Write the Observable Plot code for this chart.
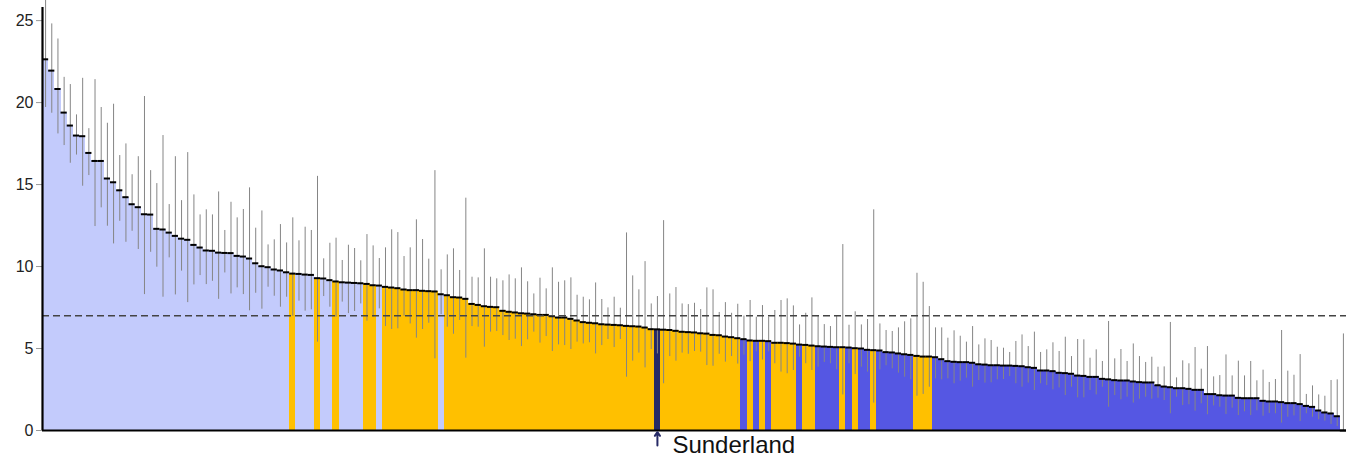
<!DOCTYPE html>
<html>
<head>
<meta charset="utf-8">
<script src="https://cdn.jsdelivr.net/npm/d3@7"></script>
<script src="https://cdn.jsdelivr.net/npm/@observablehq/plot@0.6"></script>
<style>
  body { margin: 0; background: #fff; }
  svg { display: block; }
</style>
</head>
<body>
<div id="chart"></div>
<script>
// Rate per local authority, sorted descending (rank 1..211)
const values = [
  22.64, 21.95, 20.83, 19.39, 18.6, 17.99, 17.95, 16.93, 16.44, 16.44,
  15.37, 15.14, 14.65, 14.23, 13.8, 13.62, 13.19, 13.17, 12.3, 12.26,
  12.07, 11.87, 11.7, 11.63, 11.32, 11.16, 10.98, 10.96, 10.85, 10.83,
  10.82, 10.65, 10.61, 10.49, 10.2, 10.02, 9.96, 9.82, 9.76, 9.65,
  9.57, 9.55, 9.51, 9.49, 9.29, 9.27, 9.17, 9.09, 9.04, 9.02,
  9.0, 8.98, 8.94, 8.86, 8.84, 8.76, 8.72, 8.68, 8.6, 8.56,
  8.56, 8.52, 8.5, 8.48, 8.31, 8.25, 8.13, 8.11, 8.03, 7.72,
  7.66, 7.58, 7.54, 7.52, 7.3, 7.24, 7.2, 7.15, 7.13, 7.09,
  7.05, 7.05, 6.97, 6.89, 6.89, 6.81, 6.71, 6.61, 6.57, 6.54,
  6.48, 6.46, 6.44, 6.42, 6.38, 6.36, 6.34, 6.28, 6.18, 6.17,
  6.15, 6.13, 6.08, 6.02, 6.0, 5.98, 5.93, 5.91, 5.83, 5.81,
  5.73, 5.69, 5.63, 5.57, 5.49, 5.47, 5.47, 5.45, 5.35, 5.35,
  5.33, 5.3, 5.24, 5.22, 5.18, 5.14, 5.12, 5.1, 5.08, 5.08,
  5.06, 5.02, 5.0, 4.92, 4.9, 4.88, 4.78, 4.76, 4.7, 4.65,
  4.61, 4.55, 4.51, 4.51, 4.47, 4.35, 4.23, 4.19, 4.17, 4.17,
  4.13, 4.04, 4.02, 3.98, 3.98, 3.96, 3.96, 3.94, 3.92, 3.86,
  3.82, 3.66, 3.66, 3.62, 3.52, 3.5, 3.46, 3.35, 3.33, 3.27,
  3.27, 3.15, 3.12, 3.07, 3.05, 3.05, 2.99, 2.95, 2.93, 2.93,
  2.76, 2.68, 2.64, 2.58, 2.58, 2.54, 2.48, 2.48, 2.22, 2.22,
  2.15, 2.13, 2.13, 1.99, 1.97, 1.97, 1.97, 1.81, 1.77, 1.77,
  1.73, 1.67, 1.67, 1.61, 1.5, 1.44, 1.22, 1.1, 1.04, 0.87,
  0
];

// Upper confidence limits
const upper = [
  27.5, 24.8, 23.88, 21.54, 21.1, 19.25, 21.48, 18.41, 21.4, 19.7,
  18.74, 19.9, 16.77, 17.48, 15.6, 16.7, 20.37, 15.85, 15.06, 17.99,
  13.78, 16.7, 14.02, 16.95, 14.37, 13.15, 13.46, 13.15, 14.55, 12.2,
  13.92, 12.97, 13.48, 14.8, 12.34, 13.39, 11.32, 11.63, 12.56, 11.44,
  12.97, 11.57, 12.4, 12.2, 15.5, 10.47, 11.42, 11.73, 10.37, 11.3,
  11.1, 10.35, 11.95, 11.26, 10.49, 11.14, 12.24, 12.07, 10.61, 11.14,
  12.85, 11.65, 10.45, 15.85, 9.8, 10.71, 11.08, 9.76, 14.17, 9.35,
  9.31, 11.08, 9.35, 9.25, 9.13, 9.49, 9.25, 9.92, 9.07, 8.33,
  9.29, 8.64, 9.92, 9.04, 9.13, 9.31, 8.25, 8.13, 7.97, 9.0,
  7.99, 7.48, 8.13, 7.46, 12.05, 9.43, 8.58, 10.3, 7.72, 8.17,
  12.8, 8.33, 8.72, 7.72, 7.68, 7.76, 7.38, 8.7, 8.58, 7.2,
  7.8, 7.15, 7.7, 6.98, 7.93, 6.91, 7.62, 6.91, 7.32, 7.93,
  8.03, 7.6, 6.44, 7.15, 8.09, 6.95, 6.46, 6.34, 6.99, 11.34,
  6.42, 7.24, 6.44, 6.77, 13.46, 6.5, 6.1, 6.04, 6.26, 6.63,
  6.81, 9.59, 9.04, 7.56, 6.26, 6.26, 5.63, 6.08, 5.75, 5.39,
  6.34, 5.22, 5.59, 5.49, 5.08, 5.02, 4.76, 5.43, 5.83, 5.12,
  6.0, 4.76, 4.92, 5.35, 4.82, 5.69, 4.51, 5.55, 5.53, 4.41,
  4.92, 4.21, 6.65, 4.37, 4.94, 4.21, 5.28, 4.51, 4.15, 4.47,
  3.86, 3.88, 6.59, 3.21, 4.25, 4.07, 5.06, 3.74, 5.12, 3.27,
  3.35, 4.61, 3.33, 4.23, 3.33, 4.21, 3.03, 3.68, 2.93, 3.11,
  6.1, 3.62, 3.37, 4.63, 2.2, 2.72, 2.17, 2.09, 3.05, 3.09,
  5.89
];

// Lower confidence limits
const lower = [
  19.7, 19.35, 18.09, 17.38, 16.3, 16.8, 14.9, 15.55, 12.44, 13.58,
  12.46, 11.38, 12.76, 11.48, 12.15, 11.04, 8.29, 10.87, 9.96, 8.13,
  10.53, 8.27, 9.72, 7.8, 8.88, 9.45, 8.9, 9.1, 8.0, 9.61,
  8.33, 8.7, 8.29, 7.3, 8.37, 7.4, 8.74, 8.19, 7.52, 8.13,
  6.97, 7.89, 7.28, 7.36, 5.39, 8.17, 7.52, 6.91, 7.83, 7.13,
  7.26, 7.72, 6.67, 6.91, 7.42, 6.34, 6.16, 6.2, 6.97, 6.5,
  5.63, 6.16, 6.54, 4.37, 7.07, 6.3, 5.87, 6.71, 4.41, 6.34,
  6.3, 5.08, 6.0, 6.04, 5.79, 5.49, 5.57, 5.12, 5.53, 6.0,
  5.33, 5.73, 4.82, 5.22, 5.18, 4.94, 5.39, 5.28, 5.35, 4.67,
  5.18, 5.55, 5.06, 5.55, 3.25, 4.23, 4.72, 3.82, 4.94, 4.67,
  2.85, 4.51, 4.23, 4.72, 4.65, 4.82, 4.78, 3.96, 3.92, 4.65,
  4.17, 4.51, 4.05, 4.6, 4.2, 4.8, 4.3, 4.8, 4.07, 3.56,
  3.46, 3.66, 4.47, 4.07, 3.66, 3.86, 4.15, 4.07, 3.7, 2.17,
  4.07, 3.41, 3.86, 3.56, 1.67, 3.7, 3.95, 3.76, 3.5, 3.25,
  3.09, 2.09, 2.2, 2.64, 3.15, 3.09, 3.15, 2.85, 3.01, 3.19,
  2.64, 3.05, 2.89, 2.91, 3.09, 3.11, 3.29, 2.85, 2.64, 2.89,
  2.44, 2.85, 2.74, 2.48, 2.6, 2.13, 2.64, 1.99, 1.99, 2.44,
  2.17, 2.64, 1.42, 2.13, 1.87, 2.03, 1.67, 1.91, 2.03, 1.91,
  1.97, 1.83, 1.02, 2.03, 1.52, 1.57, 1.18, 1.63, 0.96, 1.5,
  1.42, 0.98, 1.36, 0.91, 1.14, 0.91, 1.2, 0.87, 1.04, 1.02,
  0.45, 0.81, 0.89, 0.55, 1.02, 0.81, 0.65, 0.57, 0.37, 0.24,
  0
];

// Significance vs England: H = higher, S = similar, L = lower
const significance =
  "HHHHHHHHHH HHHHHHHHHH HHHHHHHHHH HHHHHHHHHH " +
  "S HHH S HH S HHHH SS H SSSSSSSSS H " +
  "SSSSSSSSSS SSSSSSSSSS SSSSSSSSSS SSSSSSSSSS SSSSSSSS " +
  "LSLSL SSSS L SS LLLL SLS LL S LLLLLL SSS " +
  "LLLLLLLLLL LLLLLLLLLL LLLLLLLLLL LLLLLLLLLL LLLLLLLLLL LLLLLLLLLL LLLLLLL";

const englandValue = 7.0;
const yTicks = [0, 5, 10, 15, 20, 25];
const highlightName = "Sunderland";
const highlightRank = 100;

const groupColors = {H: "#c3cbfc", S: "#ffc000", L: "#5557e3", highlight: "#262a66"};

const sig = significance.replace(/\s+/g, "").split("");
const data = values.map((v, i) => ({
  area: (i + 1 === highlightRank) ? highlightName : `LA ${i + 1}`,
  value: v,
  lo: lower[i],
  hi: upper[i],
  group: (i + 1 === highlightRank) ? "highlight" : sig[i]
}));
const hl = data.filter(d => d.area === highlightName);

const W = 1354, ML = 42, MR = 8;
const halfBand = (W - ML - MR) / data.length / 2;

const chart = Plot.plot({
  width: W,
  height: 458,
  marginLeft: ML,
  marginRight: MR,
  marginTop: 7,
  marginBottom: 28,
  style: {fontFamily: "'Liberation Sans', Arial, sans-serif", fontSize: "16px", background: "#fff", color: "#000"},
  x: {type: "band", domain: data.map(d => d.area), padding: 0, axis: null},
  y: {domain: [0, 25.8], axis: null},
  color: {domain: Object.keys(groupColors), range: Object.values(groupColors)},
  marks: [
    Plot.barY(data, {x: "area", y: "value", fill: "group", shapeRendering: "crispEdges"}),
    Plot.ruleX(data, {x: "area", y1: "lo", y2: "hi", stroke: "#858585", strokeWidth: 1}),
    Plot.tickY(data, {x: "area", y: "value", stroke: "#000", strokeWidth: 2}),
    Plot.ruleY([englandValue], {stroke: "#444", strokeWidth: 1.5, strokeDasharray: "7,4"}),
    Plot.axisY({ticks: yTicks, tickSize: 6, tickPadding: 3, fontSize: 16, stroke: "#999", fill: "#222", label: null}),
    Plot.ruleX([data[0]], {x: "area", y1: 0, y2: 25.8, dx: -halfBand, stroke: "#000", strokeWidth: 2.2}),
    Plot.ruleY([0], {stroke: "#000", strokeWidth: 2.2}),
    Plot.arrow(hl, {x1: "area", x2: "area", y1: -0.92, y2: -0.1, stroke: "#262a66", strokeWidth: 2, headLength: 7, headAngle: 70}),
    Plot.text(hl, {x: "area", y: 0, text: () => highlightName, dx: 15, dy: 22, lineAnchor: "bottom", textAnchor: "start", fontSize: 24, fill: "#111"})
  ]
});
document.getElementById("chart").appendChild(chart);
</script>
</body>
</html>
